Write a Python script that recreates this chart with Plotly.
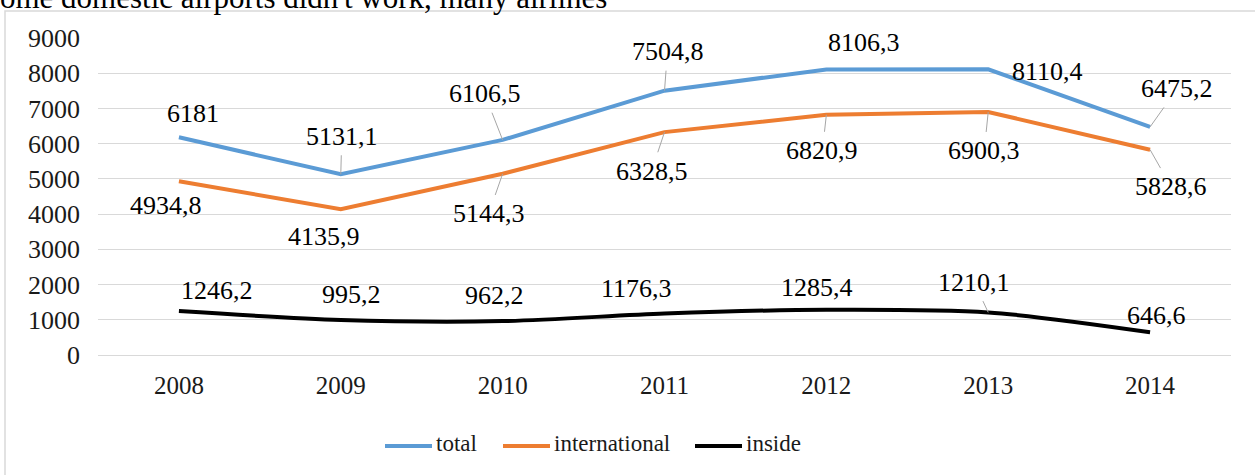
import plotly.graph_objects as go

years = ["2008", "2009", "2010", "2011", "2012", "2013", "2014"]
total = [6181, 5131.1, 6106.5, 7504.8, 8106.3, 8110.4, 6475.2]
international = [4934.8, 4135.9, 5144.3, 6328.5, 6820.9, 6900.3, 5828.6]
inside = [1246.2, 995.2, 962.2, 1176.3, 1285.4, 1210.1, 646.6]

series_names = ["total", "international", "inside"]
series_colors = ["#5B9BD5", "#ED7D31", "#000000"]

# label offsets (pixels from point) and whether a leader line is drawn
total_off = [(14, -24, 0), (1, -38, 1), (-18, -46, 1), (3, -39, 1), (38, -27, 0), (59, 2, 0), (27, -38, 1)]
intl_off = [(-13, 24, 0), (-17, 27, 0), (-14, 40, 1), (-13, 39, 1), (-4, 36, 1), (-4, 39, 1), (21, 37, 1)]
inside_off = [(38, -21, 0), (11, -25, 0), (-8, -26, 0), (-28, -25, 0), (-9, -22, 0), (-14, -30, 1), (6, -17, 0)]

W, H = 1255, 475
L, R, T, B = 98, 24, 38, 120
PW, PH = W - L - R, H - T - B


def px_x(p):
    return (p - L) / PW


def px_y(p):
    return (H - B - p) / PH


FONT = "Liberation Serif"

fig = go.Figure()
for name, vals, col in zip(series_names, [total, international, inside], series_colors):
    line = dict(color=col, width=4)
    if name == "inside":
        line.update(shape="spline", smoothing=0.8)
    fig.add_trace(go.Scatter(x=years, y=vals, name=name, mode="lines", line=line, showlegend=False))


def fmt(v):
    s = ("%.1f" % v).rstrip("0").rstrip(".")
    return s.replace(".", ",")


annotations = []
for vals, offs in [(total, total_off), (international, intl_off), (inside, inside_off)]:
    for i, (v, (ax, ay, lead)) in enumerate(zip(vals, offs)):
        annotations.append(dict(
            x=i, y=v, xref="x", yref="y", text=fmt(v),
            showarrow=True, ax=ax, ay=ay, arrowhead=0, arrowwidth=1,
            arrowcolor="#A6A6A6" if lead else "rgba(0,0,0,0)",
            standoff=0, startstandoff=3,
            font=dict(family=FONT, size=26, color="#000000"),
        ))

# top text fragment (cut off by the page edge)
annotations.append(dict(
    xref="paper", yref="paper", x=px_x(-2), y=px_y(17), xanchor="left", yanchor="bottom",
    text="ome domestic airports didn't work, many airlines", showarrow=False,
    font=dict(family=FONT, size=31, color="#000000"),
))

# custom legend (long line symbols like the reference)
shapes = [dict(type="rect", xref="paper", yref="paper",
               x0=px_x(5), x1=px_x(1262), y0=px_y(482), y1=px_y(11),
               line=dict(color="#D9D9D9", width=1.5), fillcolor="rgba(0,0,0,0)", layer="below")]
leg_x = [385, 503, 695]
for name, col, x0 in zip(series_names, series_colors, leg_x):
    shapes.append(dict(type="line", xref="paper", yref="paper",
                       x0=px_x(x0), x1=px_x(x0 + 47), y0=px_y(446), y1=px_y(446),
                       line=dict(color=col, width=4)))
    annotations.append(dict(xref="paper", yref="paper", x=px_x(x0 + 49), y=px_y(443),
                            xanchor="left", yanchor="middle", text=name, showarrow=False,
                            font=dict(family=FONT, size=23, color="#1a1a1a")))

fig.update_layout(
    width=W, height=H,
    margin=dict(l=L, r=R, t=T, b=B),
    paper_bgcolor="white", plot_bgcolor="white",
    font=dict(family=FONT, size=25, color="#1a1a1a"),
    showlegend=False,
    annotations=annotations,
    shapes=shapes,
)
fig.update_xaxes(type="category", range=[-0.5, 6.5], showgrid=False, zeroline=False,
                 showline=False, ticks="", ticklabelstandoff=13,
                 tickfont=dict(family=FONT, size=25, color="#1a1a1a"))
fig.update_yaxes(range=[0, 9000], dtick=1000, showgrid=True, gridcolor="#D9D9D9", gridwidth=1,
                 zeroline=True, zerolinecolor="#D9D9D9", zerolinewidth=1, showline=False,
                 ticks="", ticklabelstandoff=17,
                 tickfont=dict(family=FONT, size=26, color="#1a1a1a"))

fig.write_html("out.html")
